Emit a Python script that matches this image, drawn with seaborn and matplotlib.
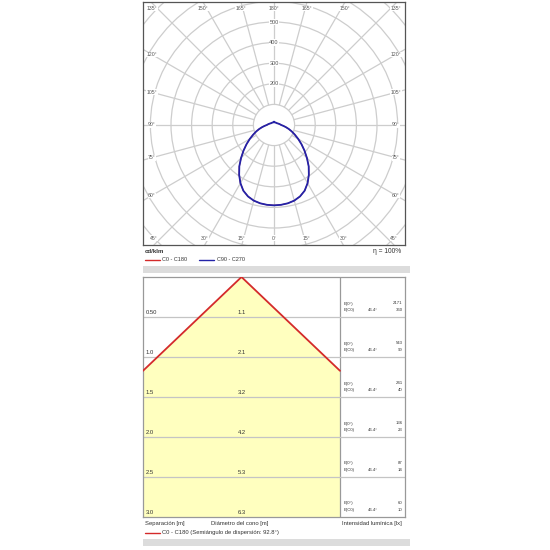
import numpy as np
import pandas as pd
import seaborn as sns
import matplotlib
matplotlib.use("Agg")
import matplotlib.pyplot as plt
from matplotlib.patches import Circle, Rectangle

# polar curve (cd/klm), gamma measured from nadir
gamma = [0, 5, 10, 15, 20, 25, 30, 35, 40, 45, 50, 55, 60, 65, 70, 75, 80, 85, 90,
         100, 110, 120, 135, 150, 165, 170, 175, 180]
i_c0_c180 = [390, 389, 386, 380, 369, 352, 326, 295, 262, 226, 193, 163, 136, 112, 92, 74,
             58, 45, 35, 27, 21, 17, 15, 14, 13, 13, 15, 16]
i_c90_c270 = [390, 389, 386, 380, 369, 352, 326, 295, 262, 226, 193, 163, 136, 112, 92, 74,
              58, 45, 35, 27, 21, 17, 15, 14, 13, 13, 15, 16]
ring_values = [200, 300, 400, 500]
eta = 100

# cone diagram
separation = [0.5, 1.0, 1.5, 2.0, 2.5, 3.0]
sep_labels = ["0.50", "1.0", "1.5", "2.0", "2.5", "3.0"]
diameter = [1.1, 2.1, 3.2, 4.2, 5.3, 6.3]
e_0 = [2171, 543, 241, 136, 87, 60]
e_c0 = [360, 90, 40, 23, 14, 10]
half_angle = 46.4
spread = 92.8

RED = "#d42a2a"
BLUE = "#2323a8"
GRID = "#cdcdcd"
TXT = "#333333"

sns.set_theme(style="white")
plt.rcParams["font.family"] = ["Liberation Sans", "DejaVu Sans"]

W_PX = 550
fig = plt.figure(figsize=(5.5, 5.5), dpi=100)


def fx(x):
    return x / W_PX


def fy(y):
    return 1 - y / W_PX


# ---------------- polar diagram ----------------
L, R, T, B = 143, 405, 2, 245
cx, cy = 274, 125
scale = 0.206  # px per cd/klm

ax = fig.add_axes([fx(L), fy(B), (R - L) / W_PX, (B - T) / W_PX])
ax.set_xlim((L - cx) / scale, (R - cx) / scale)
ax.set_ylim((cy - B) / scale, (cy - T) / scale)
ax.set_xticks([])
ax.set_yticks([])
for s in ax.spines.values():
    s.set_color("#555555")
    s.set_linewidth(0.9)

for r in range(100, 1000, 100):
    ax.add_patch(Circle((0, 0), r, fill=False, ec=GRID, lw=0.9, zorder=1))
for a in np.arange(0, 360, 15):
    rad = np.radians(a)
    ax.plot([100 * np.sin(rad), 1000 * np.sin(rad)],
            [100 * np.cos(rad), 1000 * np.cos(rad)], color=GRID, lw=0.9, zorder=1)

for r in ring_values:
    ax.text(0, r, str(r), ha="center", va="center", fontsize=4, color="#555555",
            bbox=dict(fc="white", ec="none", pad=0.5), zorder=3)

# angle labels along frame
ins_x, ins_top, ins_bot = 9, 6.5, 7
for g in range(0, 181, 15):
    sides = [1] if g in (0, 180) else [-1, 1]
    for side in sides:
        rad = np.radians(g)
        dx = side * np.sin(rad)
        dy = np.cos(rad)
        tx = ((R if dx > 0 else L) - cx) / dx if abs(dx) > 1e-9 else np.inf
        ty = ((B if dy > 0 else T) - cy) / dy if abs(dy) > 1e-9 else np.inf
        if ty <= tx:
            px = np.clip(cx + ty * dx, L + ins_x, R - ins_x)
            py = B - ins_bot if dy > 0 else T + ins_top
        else:
            px = R - ins_x if dx > 0 else L + ins_x
            py = cy + (px - cx) / dx * dy
        ax.text((px - cx) / scale, (cy - py) / scale, f"{g}°", ha="center", va="center",
                fontsize=3.7, color="#555555",
                bbox=dict(fc="white", ec="none", pad=0.3), zorder=3)

rows = []
for name, vals in [("C0 - C180", i_c0_c180), ("C90 - C270", i_c90_c270)]:
    path = [(-1, g, v) for g, v in zip(gamma[::-1], vals[::-1])] + \
           [(1, g, v) for g, v in zip(gamma, vals)]
    for side, g, v in path:
        rad = np.radians(g)
        rows.append({"plano": name, "x": side * v * np.sin(rad), "y": -v * np.cos(rad)})
df = pd.DataFrame(rows)
sns.lineplot(data=df[df["plano"] == "C0 - C180"], x="x", y="y", sort=False, estimator=None,
             color=RED, lw=0.8, ax=ax, zorder=4)
sns.lineplot(data=df[df["plano"] == "C90 - C270"], x="x", y="y", sort=False, estimator=None,
             color=BLUE, lw=1.3, ax=ax, zorder=5)
ax.set_xlabel("")
ax.set_ylabel("")

# legend below polar plot
fig.text(fx(145), fy(251.5), "cd/klm", fontsize=4.4, fontweight="bold", color=TXT,
         ha="left", va="center")
fig.text(fx(401), fy(251.5), f"η = {eta}%", fontsize=4.8, color=TXT, ha="right", va="center")
fig.add_artist(plt.Line2D([fx(145), fx(160)], [fy(260), fy(260)], color=RED, lw=1.0))
fig.text(fx(161.5), fy(260), "C0 - C180", fontsize=4, color=TXT, ha="left", va="center")
fig.add_artist(plt.Line2D([fx(199), fx(214)], [fy(260), fy(260)], color=BLUE, lw=1.0))
fig.text(fx(217), fy(260), "C90 - C270", fontsize=4, color=TXT, ha="left", va="center")
fig.add_artist(Rectangle((fx(143), fy(273)), (410 - 143) / W_PX, 7 / W_PX,
                         transform=fig.transFigure, fc="#dcdcdc", ec="none"))

# ---------------- cone diagram ----------------
CT, CB, CD = 277, 517, 340
ppm = 80.0
W = (CD - L) / 2 / ppm
Tw = (R - CD) / ppm
axc = fig.add_axes([fx(L), fy(CB), (R - L) / W_PX, (CB - CT) / W_PX])
axc.set_xlim(-W, W + Tw)
axc.set_ylim(separation[-1], 0)
axc.set_xticks([])
axc.set_yticks([])
for s in axc.spines.values():
    s.set_color("#999999")
    s.set_linewidth(0.9)

t = np.tan(np.radians(half_angle))
d = np.linspace(0, separation[-1], 200)
half_w = np.minimum(d * t, W)
axc.fill_betweenx(d, -half_w, half_w, color="#ffffbf", lw=0, zorder=1)
d_edge = W / t
axc.plot([-W, 0, W], [d_edge, 0, d_edge], color=RED, lw=1.3, zorder=3)
axc.axvline(W, color="#999999", lw=0.9, zorder=2)
for s in separation[:-1]:
    axc.axhline(s, color="#c4c4c4", lw=0.9, zorder=2)

for s, lab, dm, e0, ec in zip(separation, sep_labels, diameter, e_0, e_c0):
    axc.text(-W + 3 / ppm, s - 5 / ppm, lab, fontsize=4.2, color=TXT, ha="left", va="center")
    axc.text(0, s - 5 / ppm, f"{dm:.1f}", fontsize=4.2, color=TXT, ha="center", va="center")
    axc.text(W + 3.5 / ppm, s - 13.5 / ppm, "E(0°)", fontsize=3.1, color=TXT,
             ha="left", va="center")
    axc.text(W + 3.5 / ppm, s - 7 / ppm, "E(C0)", fontsize=3.1, color=TXT,
             ha="left", va="center")
    axc.text(W + 32.5 / ppm, s - 7 / ppm, f"{half_angle:.1f}°", fontsize=3.1, color=TXT,
             ha="center", va="center")
    axc.text(W + Tw - 2.5 / ppm, s - 13.5 / ppm, str(e0), fontsize=3.1, color=TXT,
             ha="right", va="center")
    axc.text(W + Tw - 2.5 / ppm, s - 7 / ppm, str(ec), fontsize=3.1, color=TXT,
             ha="right", va="center")

fig.text(fx(145), fy(524), "Separación [m]", fontsize=4.2, color=TXT, ha="left", va="center")
fig.text(fx(210.7), fy(524), "Diámetro del cono [m]", fontsize=4.2, color=TXT,
         ha="left", va="center")
fig.text(fx(341.7), fy(524), "Intensidad lumínica [lx]", fontsize=4.2, color=TXT,
         ha="left", va="center")
fig.add_artist(plt.Line2D([fx(145), fx(160)], [fy(532.5), fy(532.5)], color=RED, lw=1.0))
fig.text(fx(162.5), fy(532.5), f"C0 - C180 (Semiángulo de dispersión: {spread}°)",
         fontsize=4.2, color=TXT, ha="left", va="center")
fig.add_artist(Rectangle((fx(143), fy(546)), (410 - 143) / W_PX, 7 / W_PX,
                         transform=fig.transFigure, fc="#dcdcdc", ec="none"))

fig.savefig("out.png", dpi=100, facecolor="white")
